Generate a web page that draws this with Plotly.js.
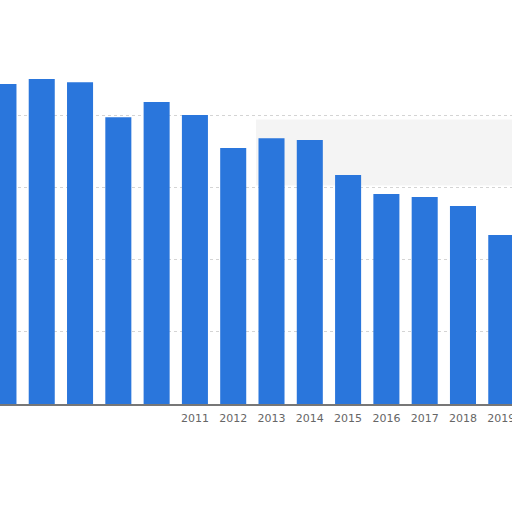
<!DOCTYPE html>
<html>
<head>
<meta charset="utf-8">
<script src="https://cdn.plot.ly/plotly-3.0.1.min.js"></script>
<style>
  html, body { margin: 0; padding: 0; background: #fff; }
  #chart { width: 512px; height: 512px; }
</style>
</head>
<body>
<div id="chart"></div>
<script>
  // années et valeurs (échelle : une ligne de grille = 20)
  const years = ['2006', '2007', '2008', '2009', '2010', '2011', '2012',
                 '2013', '2014', '2015', '2016', '2017', '2018', '2019'];
  const values = [88.6, 90.0, 89.1, 79.4, 83.6, 80.0, 70.9,
                  73.6, 73.1, 63.4, 58.1, 57.3, 54.8, 46.8];
  // seuls ces libellés restent visibles sur l'image
  const shownYears = ['2011', '2012', '2013', '2014', '2015', '2016', '2017', '2018', '2019'];

  let trace = {
    x: years, y: values, type: 'bar',
    marker: { color: '#2a76dc' },
    hoverinfo: 'skip'
  };

  let layout = {
    width: 512, height: 512,
    margin: { l: 0, r: 0, t: 57, b: 108 },
    paper_bgcolor: '#ffffff', plot_bgcolor: '#ffffff',
    showlegend: false,
    bargap: 0.32,
    xaxis: {
      type: 'category',
      range: [-0.09, 13.28],
      tickvals: shownYears, ticktext: shownYears,
      showgrid: false, zeroline: false,
      showline: true, linecolor: '#777777', linewidth: 2,
      ticks: '', ticklabelstandoff: 3,
      tickfont: { family: 'DejaVu Sans, sans-serif', size: 11, color: '#666666' }
    },
    yaxis: {
      range: [0, 96.06],
      dtick: 20,
      showticklabels: false,
      gridcolor: '#d4d4d4', griddash: 'dot', gridwidth: 1,
      zeroline: false
    },
    shapes: [
      // ombre grise du papier déchiré en haut à droite
      { type: 'rect', xref: 'paper', yref: 'paper', layer: 'below',
        x0: 0.5, x1: 1, y0: 0.63, y1: 0.82,
        fillcolor: 'rgba(0,0,0,0.045)', line: { width: 0 } }
    ]
  };

  Plotly.newPlot('chart', [trace], layout, { staticPlot: true });
</script>
</body>
</html>
